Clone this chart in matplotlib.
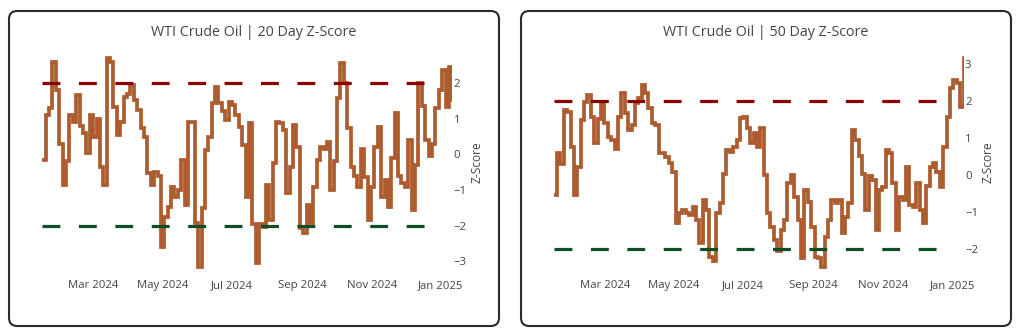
import matplotlib
matplotlib.use("Agg")
import matplotlib.pyplot as plt
import pandas as pd
from matplotlib.patches import FancyBboxPatch

# ---------------- data ----------------
start_date = "2024-01-16"
end_date = "2025-01-11"
band_end = "2024-12-27"
upper_level = 2
lower_level = -2

z20 = [-0.16, 1.1, 1.3, 2.6, 1.8, 0.3, -0.86, -0.2, 1.1, 0.9,
       1.66, 0.8, 0.6, 0.03, 1.1, 0.49, 1.0, -0.35, -0.86, 2.69,
       2.6, 1.33, 0.54, 0.9, 1.6, 1.7, 1.94, 1.52, 1.24, 0.73,
       0.49, -0.53, -0.86, -0.49, -0.6, -2.59, -1.75, -1.47, -0.91, -1.19,
       -1.0, -0.16, -1.42, 0.91, 0.91, -1.93, -3.15, -1.5, 0.12, 0.49,
       1.43, 1.9, 1.43, 1.2, 0.96, 1.47, 1.38, 1.1, 0.77, 0.26,
       -1.19, 0.87, -1.95, -3.06, -1.95, -2.05, -0.85, -1.85, -0.25, 0.91,
       0.88, 0.68, -1.09, -0.35, 0.82, 0.21, -2.07, -2.22, -1.42, -1.93,
       -0.91, -0.16, 0.21, 0.15, 0.35, -1.0, -0.2, 1.57, 2.55, 1.99,
       0.73, -0.35, -0.6, -0.91, 0.15, -0.65, -1.84, -0.91, 0.21, 0.77,
       -1.19, -0.72, -1.47, -0.1, 1.15, -0.6, -0.81, -0.91, 0.4, -1.56,
       -0.3, 1.99, 1.35, 0.4, -0.05, 0.3, 1.29, 1.8, 2.36, 1.33,
       2.46, 1.52]

z50 = [-0.54, 0.58, 0.3, 1.75, 1.7, 0.76, -0.54, 0.22, 1.48, 1.97,
       2.15, 1.57, 0.85, 1.5, 1.93, 1.4, 1.03, 0.94, 0.7, 1.57,
       2.2, 1.66, 1.21, 1.35, 1.93, 2.06, 2.42, 2.2, 1.79, 1.39,
       1.35, 0.58, 0.58, 0.49, 0.31, 0.09, -1.3, -1.03, -0.94, -1.03,
       -1.08, -0.85, -1.21, -1.84, -0.67, -0.94, -2.2, -2.3, -1.03, -0.76,
       0.04, 0.67, 0.63, 0.76, 0.94, 1.53, 1.57, 1.26, 0.85, 1.12,
       0.76, 1.26, 0.0, -1.03, -1.39, -1.75, -2.05, -1.48, -1.2, -0.22,
       0.0, -0.58, -1.21, -2.24, -0.4, -0.72, -1.39, -2.2, -2.24, -2.47,
       -1.66, -1.21, -0.67, -0.76, -0.67, -1.57, -1.12, -0.76, 1.21, 0.94,
       0.5, 0.04, -0.94, -0.04, -0.13, -1.48, -0.4, -0.31, 0.67, 0.58,
       -0.22, -1.48, -0.58, -0.67, 0.22, -0.8, -0.85, -0.22, -0.94, -1.3,
       -0.3, 0.22, 0.31, 0.09, -0.31, 0.76, 1.57, 2.33, 2.56, 2.47,
       1.84, 3.14]

titles = ["WTI Crude Oil | 20 Day Z-Score", "WTI Crude Oil | 50 Day Z-Score"]
yticks20 = [-3, -2, -1, 0, 1, 2]
yticks50 = [-2, -1, 0, 1, 2, 3]
xtick_dates = ["2024-03-01", "2024-05-01", "2024-07-01", "2024-09-01",
               "2024-11-01", "2025-01-01"]
xtick_labels = ["Mar 2024", "May 2024", "Jul 2024", "Sep 2024",
                "Nov 2024", "Jan 2025"]

# ---------------- style ----------------
LINE_COLOR = "#ad5c2f"
RED = "#8b0000"
GREEN = "#0e4d26"
TEXT = "#444444"
FONT = ["Open Sans", "DejaVu Sans"]
plt.rcParams["font.family"] = FONT

W, H = 1024, 334
fig = plt.figure(figsize=(W / 100, H / 100), dpi=100)
fig.patch.set_facecolor("white")


def px_axes(l, t, r, b):
    return fig.add_axes([l / W, 1 - b / H, (r - l) / W, (b - t) / H])


def draw_panel(box, plot, values, yticks, ylim, title, title_x, label_x):
    bl, bt, br, bb = box
    patch = FancyBboxPatch((bl / W, 1 - bb / H), (br - bl) / W, (bb - bt) / H,
                           boxstyle="round,pad=0,rounding_size=0.008",
                           transform=fig.transFigure, facecolor="none",
                           edgecolor="#2b2b2b", linewidth=1.5,
                           mutation_aspect=W / H)
    fig.patches.append(patch)

    ax = px_axes(*plot)
    dates = pd.date_range(start_date, end_date, periods=len(values))
    ax.plot(dates, values, drawstyle="steps-post", color=LINE_COLOR,
            lw=2.7, solid_joinstyle="miter", zorder=2)
    band_x = [pd.Timestamp(start_date), pd.Timestamp(band_end)]
    ax.plot(band_x, [upper_level, upper_level], color=RED, lw=2.3,
            ls=(0, (5.6, 5.8)), zorder=3)
    ax.plot(band_x, [lower_level, lower_level], color=GREEN, lw=2.3,
            ls=(0, (5.6, 5.8)), zorder=3)
    ax.set_xlim(dates[0], dates[-1])
    ax.set_ylim(*ylim)
    for s in ax.spines.values():
        s.set_visible(False)
    ax.set_xticks(pd.to_datetime(xtick_dates))
    ax.set_xticklabels(xtick_labels)
    ax.yaxis.tick_right()
    ax.set_yticks(yticks)
    ax.set_yticklabels([("\u2212" if v < 0 else "") + str(abs(v)) for v in yticks])
    ax.tick_params(axis="both", length=0, colors=TEXT, labelsize=8.2)
    ax.tick_params(axis="x", pad=3.4)
    ax.tick_params(axis="y", pad=1)
    ax.set_facecolor("none")
    fig.text(title_x / W, 1 - 32 / H, title, ha="center", va="center",
             fontsize=10.3, color=TEXT)
    fig.text(label_x / W, 1 - 162 / H, "Z-Score", rotation=90, ha="center",
             va="center", fontsize=8.6, color=TEXT)


draw_panel((9, 11, 499, 326), (42.3, 48, 452.3, 275), z20, yticks20,
           (-3.384, 2.98), titles[0], 254, 477)
draw_panel((521, 11, 1011, 326), (553.6, 48, 963.6, 275), z50, yticks50,
           (-2.69, 3.417), titles[1], 766, 988)

fig.savefig("out.png", dpi=100, facecolor="white")
